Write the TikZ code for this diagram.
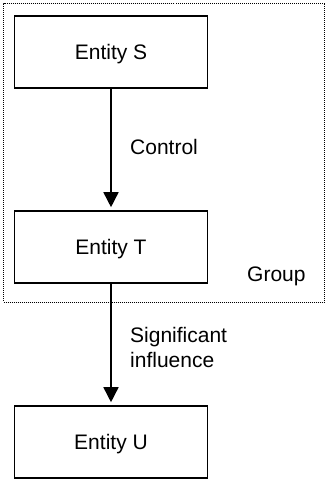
\documentclass[tikz,border=0pt]{standalone}
\usepackage{fontspec}
\setmainfont{Liberation Sans}
\usetikzlibrary{arrows.meta}
\begin{document}
\begin{tikzpicture}[x=1pt,y=-1pt,
  every node/.style={font=\fontsize{21}{25}\selectfont, inner sep=0pt},
  entity/.style={draw, line width=1.6pt, minimum width=193pt, minimum height=72pt,
    text height=15pt, text depth=0pt},
  link/.style={line width=1.6pt, -{Triangle[length=15pt,width=15pt]}, shorten >=3pt},
  grouping/.style={draw, line width=1pt, dash pattern=on 1pt off 1pt},
  caption/.style={anchor=base west, align=left}]
  \useasboundingbox (0,0) rectangle (326,479);

  % group boundary
  \node[grouping, minimum width=321pt, minimum height=299pt] (group) at (164,152.5) {};

  % entities
  \node[entity] (S) at (111,52) {Entity S};
  \node[entity] (T) at (111,247) {Entity T};
  \node[entity] (U) at (111,442) {Entity U};

  % relations
  \draw[link] (S) -- (T);
  \draw[link] (T) -- (U);

  % labels
  \node[caption] (control) at (130,154) {Control};
  \node[caption] (grouplabel) at (247,281) {Group};
  \node[caption, anchor=north west] (influence) at (130,327.5) {Significant\\influence};
\end{tikzpicture}
\end{document}
